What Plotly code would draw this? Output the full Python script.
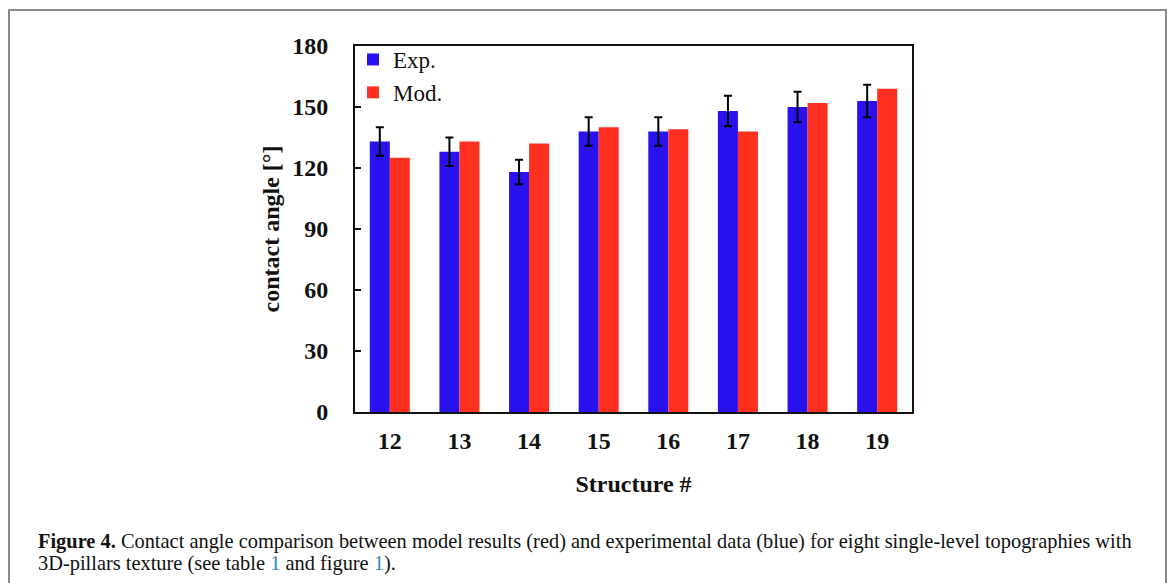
import plotly.graph_objects as go

structures = ["12", "13", "14", "15", "16", "17", "18", "19"]
exp_vals = [133, 128, 118, 138, 138, 148, 150, 153]
exp_err = [7, 7, 6, 7, 7, 7.5, 7.5, 8]
mod_vals = [125, 133, 132, 140, 139, 138, 152, 159]
y_ticks = [0, 30, 60, 90, 120, 150, 180]

W, H = 1171, 583
L, R, T, B = 355, 912, 46, 412

def px(x):
    return (x - L) / (R - L)

def py(y):
    return (B - y) / (B - T)

serif = "Liberation Serif"

fig = go.Figure()
fig.add_trace(go.Bar(
    x=structures, y=exp_vals, name="Exp.",
    marker=dict(color="#2a12ee", line=dict(width=0)),
    error_y=dict(type="data", array=exp_err, visible=True,
                 color="black", thickness=2, width=4),
))
fig.add_trace(go.Bar(
    x=structures, y=mod_vals, name="Mod.",
    marker=dict(color="#ff3020", line=dict(width=0)),
))

fig.update_layout(
    width=W, height=H,
    margin=dict(l=L, r=W - R, t=T, b=H - B, pad=0),
    paper_bgcolor="white", plot_bgcolor="white",
    barmode="group", bargap=0.425, bargroupgap=0,
    font=dict(family=serif, color="#111111"),
    showlegend=True,
    legend=dict(x=px(353), y=py(38), xanchor="left", yanchor="top",
                bgcolor="rgba(0,0,0,0)", font=dict(family=serif, size=23, color="#111111"),
                itemwidth=30, tracegroupgap=0),
    xaxis=dict(
        range=[-0.5, 7.5], showline=True, linecolor="#111111", linewidth=2, mirror=True,
        ticks="", ticklabelstandoff=6,
        tickfont=dict(family=serif, size=24, color="#111111", weight="bold"),
        title=dict(text="<b>Structure #</b>", font=dict(family=serif, size=24, color="#111111"),
                   standoff=22),
        showgrid=False, zeroline=False,
    ),
    yaxis=dict(
        range=[0, 180], tickvals=y_ticks, showline=True, linecolor="#111111", linewidth=2,
        mirror=True, ticks="inside", ticklen=6, tickwidth=2, tickcolor="#111111",
        ticklabelstandoff=20,
        tickfont=dict(family=serif, size=24, color="#111111", weight="bold"),
        title=dict(text="<b>contact angle [°]</b>", font=dict(family=serif, size=24, color="#111111"),
                   standoff=6),
        showgrid=False, zeroline=False,
    ),
)

# outer figure frame
fig.add_shape(type="rect", xref="paper", yref="paper",
              x0=px(9), x1=px(1166), y0=py(600), y1=py(10),
              line=dict(color="#8a8a8a", width=2), fillcolor="rgba(0,0,0,0)", layer="below")

cap_font = dict(family=serif, size=20.4, color="#111111")
fig.add_annotation(
    xref="paper", yref="paper", x=px(36), y=py(541), xanchor="left", yanchor="middle",
    showarrow=False, align="left", font=cap_font,
    text="<b>Figure 4.</b> Contact angle comparison between model results (red) and experimental data (blue) for eight single-level topographies with",
)
fig.add_annotation(
    xref="paper", yref="paper", x=px(36), y=py(563), xanchor="left", yanchor="middle",
    showarrow=False, align="left", font=cap_font,
    text="3D-pillars texture (see table <span style='color:#2a86c6'>1</span> and figure <span style='color:#2a86c6'>1</span>).",
)

fig.write_html("out.html")
